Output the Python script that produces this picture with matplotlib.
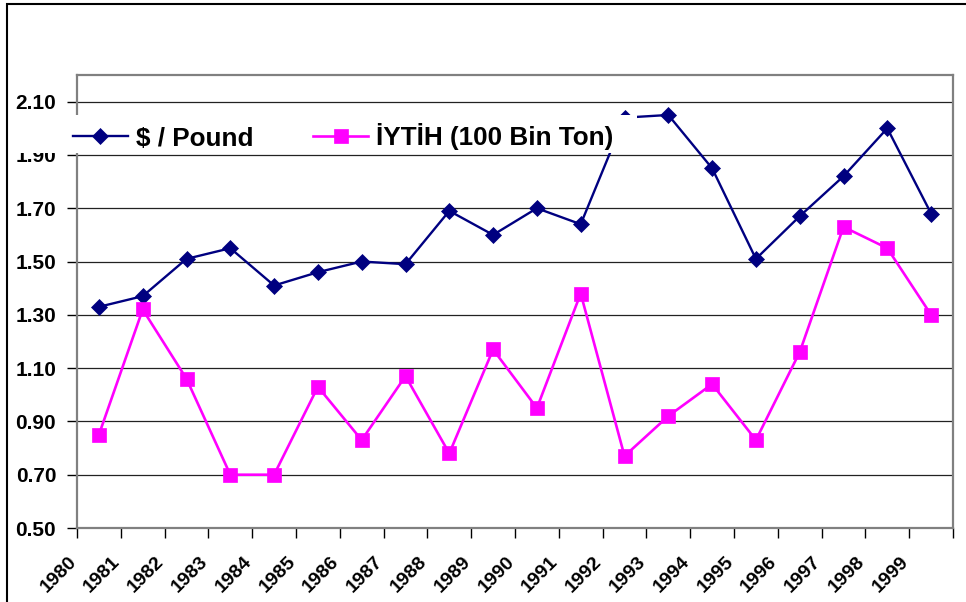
import numpy as np
import matplotlib
matplotlib.use("Agg")
import matplotlib.pyplot as plt
from matplotlib.patches import Rectangle
from matplotlib.transforms import ScaledTranslation

# values
years = [str(y) for y in range(1980, 2000)]
usd_per_pound = [1.33, 1.37, 1.51, 1.55, 1.41, 1.46, 1.50, 1.49, 1.69, 1.60,
                 1.70, 1.64, 2.04, 2.05, 1.85, 1.51, 1.67, 1.82, 2.00, 1.68]
iytih = [0.85, 1.32, 1.06, 0.70, 0.70, 1.03, 0.83, 1.07, 0.78, 1.17,
         0.95, 1.38, 0.77, 0.92, 1.04, 0.83, 1.16, 1.63, 1.55, 1.30]
y_ticks = [0.50, 0.70, 0.90, 1.10, 1.30, 1.50, 1.70, 1.90, 2.10]

plt.rcParams['font.family'] = ['Liberation Sans', 'DejaVu Sans']
plt.rcParams['font.weight'] = 'bold'

W, H = 966, 602
fig = plt.figure(figsize=(W / 100, H / 100), dpi=100)
ax = fig.add_axes([77 / W, 1 - 528 / H, 876 / W, 453 / H])

x = np.arange(len(years)) + 0.5
l1, = ax.plot(x, usd_per_pound, color='#000080', lw=1.7, marker='D', ms=8,
              mew=0.5, label='$ / Pound', zorder=3)
l2, = ax.plot(x, iytih, color='#FF00FF', lw=1.9, marker='s', ms=10,
              mew=0.5, label='İYTİH (100 Bin Ton)', zorder=3)

ax.set_xlim(0, len(years))
ax.set_ylim(0.5, 2.2)
ax.set_yticks(y_ticks)
ax.set_yticklabels(['%.2f' % v for v in y_ticks], fontsize=15, fontweight='bold')
ax.set_xticks(np.arange(len(years) + 1))
ax.set_xticklabels(years + [''], fontsize=14, fontweight='bold', rotation=45,
                   ha='right', va='baseline', rotation_mode='anchor')
for lab in ax.get_xticklabels():
    lab.set_transform(lab.get_transform() + ScaledTranslation(0.1, 0, fig.dpi_scale_trans))

ax.tick_params(axis='y', length=7, width=1, pad=8, color='black')
ax.tick_params(axis='x', length=7, width=1, pad=18, color='black')

ax.grid(axis='y', color='#222222', lw=0.9, zorder=1)
ax.set_axisbelow(True)
for s in ax.spines.values():
    s.set_color('#808080')
    s.set_linewidth(1.6)

# white legend area laid over the plot, as in the reference
fig.add_artist(Rectangle((12 / W, 1 - 153 / H), (637 - 12) / W, 37.5 / H,
                         transform=fig.transFigure, fc='white', ec='none', zorder=1.5))
leg = fig.legend(handles=[l1, l2], loc='center left',
                 bbox_to_anchor=(73 / W, 1 - 137 / H), ncol=2, fontsize=18.8,
                 frameon=False, borderpad=0, borderaxespad=0,
                 handlelength=2.1, handletextpad=0.3, columnspacing=2.3)
leg.set_zorder(2)
for t in leg.get_texts():
    t.set_fontweight('bold')

# chart area border (only top and left fall inside the picture)
fig.add_artist(Rectangle((7 / W, -0.1), 1.2, 1.1 - 4 / H, transform=fig.transFigure,
                         fill=False, ec='black', lw=1.5, clip_on=False))

fig.savefig('out.png', dpi=100, facecolor='white')
